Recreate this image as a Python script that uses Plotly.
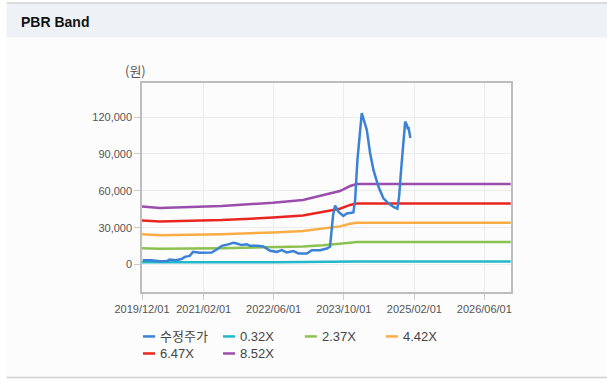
import plotly.graph_objects as go

# ---------------- data ----------------
price_dates = [
    "2019-12-06", "2020-02-06", "2020-04-02", "2020-05-21", "2020-06-10", "2020-07-22",
    "2020-08-31", "2020-09-23", "2020-10-27", "2020-11-19", "2021-01-05", "2021-03-28",
    "2021-05-02", "2021-06-06", "2021-07-10", "2021-08-25", "2021-09-18", "2021-10-23",
    "2021-11-26", "2021-12-19", "2022-02-04", "2022-03-22", "2022-05-07", "2022-06-23",
    "2022-07-27", "2022-08-31", "2022-10-16", "2022-11-20", "2023-01-17", "2023-02-21",
    "2023-04-19", "2023-06-04", "2023-06-27", "2023-07-09", "2023-07-18", "2023-08-01",
    "2023-08-24", "2023-09-27", "2023-10-21", "2023-12-06", "2023-12-18", "2024-01-03",
    "2024-01-21", "2024-02-02", "2024-02-13", "2024-03-08", "2024-03-31", "2024-04-23",
    "2024-05-28", "2024-07-01", "2024-08-05", "2024-09-09", "2024-10-06", "2024-10-18",
    "2024-11-01", "2024-11-17", "2024-11-29", "2024-12-11", "2024-12-18", "2024-12-22",
    "2024-12-29", "2025-01-04",
]
price_values = [
    3500, 3500, 2700, 2700, 4000, 3500,
    4400, 6200, 7000, 10300, 9500, 9800,
    12200, 15200, 16000, 17600, 17100, 15800,
    16500, 15200, 15200, 14700, 11100, 10300,
    11700, 9800, 10900, 9000, 9000, 11700,
    11700, 13000, 14400, 30700, 40000, 48000,
    43000, 39500, 41600, 42400, 52500, 85100,
    107000, 123300, 119000, 109600, 90600, 77000,
    63300, 53900, 49800, 46800, 45500, 55200,
    77000, 98800, 116400, 113700, 110000, 112000,
    104200, 103000,
]

band_dates = [
    "2019-12-01", "2020-04-02", "2021-06-05", "2022-02-03", "2022-05-27",
    "2022-12-21", "2023-05-09", "2023-09-04", "2023-11-13", "2023-12-29", "2026-12-01",
]
bps_values = [5550, 5400, 5590, 5775, 5900, 6160, 6640, 7020, 7500, 7690, 7690]

band_multiples = [0.32, 2.37, 4.42, 6.47, 8.52]
band_labels = ["0.32X", "2.37X", "4.42X", "6.47X", "8.52X"]
price_label = "수정주가"

x_tick_vals = ["2019-12-01", "2021-02-01", "2022-06-01", "2023-10-01", "2025-02-01", "2026-06-01"]
x_tick_text = ["2019/12/01", "2021/02/01", "2022/06/01", "2023/10/01", "2025/02/01", "2026/06/01"]
y_tick_vals = [0, 30000, 60000, 90000, 120000]
y_tick_text = ["0", "30,000", "60,000", "90,000", "120,000"]

# ---------------- styles ----------------
price_color = "#3b82d6"
band_colors = ["#22b8c8", "#8cc152", "#fbad45", "#e8261f", "#9b4dab"]
FONT = "Liberation Sans, Arial, Noto Sans CJK KR, sans-serif"

W, H = 607, 382
L, R, T, B = 142.3, 511.0, 83.3, 291.7


def px(x):
    return (x - L) / (R - L)


def py(y):
    return (B - y) / (B - T)


fig = go.Figure()

for mult, col, lab in zip(band_multiples, band_colors, band_labels):
    fig.add_trace(go.Scatter(
        x=band_dates, y=[mult * b for b in bps_values], mode="lines", name=lab,
        line=dict(color=col, width=2.5), showlegend=False, hoverinfo="skip"))

fig.add_trace(go.Scatter(
    x=price_dates, y=price_values, mode="lines", name=price_label,
    line=dict(color=price_color, width=2.5), showlegend=False))

shapes = []
annotations = []

# panel frame / header
shapes.append(dict(type="rect", xref="paper", yref="paper", x0=px(7), x1=px(607), y0=py(377), y1=py(3.5),
                   fillcolor="#fcfcfd", line=dict(width=0), layer="below"))
shapes.append(dict(type="rect", xref="paper", yref="paper", x0=px(7), x1=px(607), y0=py(38), y1=py(3.5),
                   fillcolor="#eef2f7", line=dict(width=0), layer="below"))
shapes.append(dict(type="line", xref="paper", yref="paper", x0=px(7), x1=px(607), y0=py(3.5), y1=py(3.5),
                   line=dict(color="#d0d0d0", width=1.5), layer="below"))
shapes.append(dict(type="line", xref="paper", yref="paper", x0=px(7), x1=px(607), y0=py(377), y1=py(377),
                   line=dict(color="#d0d0d0", width=1.5), layer="below"))
annotations.append(dict(xref="paper", yref="paper", x=px(19), y=py(22), xanchor="left", yanchor="middle",
                        text="<b>PBR Band</b>", showarrow=False,
                        font=dict(family="Liberation Sans, Arial, sans-serif", size=14, color="#111111")))
annotations.append(dict(xref="paper", yref="paper", x=px(136), y=py(71), xanchor="center", yanchor="middle",
                        text="(원)", showarrow=False,
                        font=dict(family="Noto Sans CJK KR", size=13, color="#555555")))

# manual legend
legend_items = [(price_label, price_color)] + list(zip(band_labels, band_colors))
legend_pos = [(143.3, 336), (223.3, 336), (305, 336), (386, 336), (143.3, 353), (223.3, 353)]
for (lab, col), (lx, ly) in zip(legend_items, legend_pos):
    shapes.append(dict(type="line", xref="paper", yref="paper", x0=px(lx), x1=px(lx + 12),
                       y0=py(ly), y1=py(ly), line=dict(color=col, width=2.5)))
    annotations.append(dict(xref="paper", yref="paper", x=px(lx + 15), y=py(ly), xanchor="left",
                            yanchor="middle", text=lab, showarrow=False,
                            font=dict(family="Liberation Sans, Noto Sans CJK KR, sans-serif", size=13,
                                      color="#444444")))

fig.update_layout(
    width=W, height=H,
    margin=dict(l=L, r=W - R, t=T, b=H - B, pad=0),
    paper_bgcolor="white", plot_bgcolor="white",
    showlegend=False,
    shapes=shapes, annotations=annotations,
    font=dict(family=FONT, size=11, color="#555555"),
)
fig.update_xaxes(
    type="date", range=["2019-12-01", "2026-12-03"],
    tickmode="array", tickvals=x_tick_vals, ticktext=x_tick_text,
    showgrid=True, gridcolor="#ececec", gridwidth=1,
    showline=True, linecolor="#bdbdbd", linewidth=1.5, mirror=True,
    ticks="outside", ticklen=6, tickcolor="#cccccc",
    tickfont=dict(size=11, color="#555555"), zeroline=False,
)
fig.update_yaxes(
    range=[-22400, 147800],
    tickmode="array", tickvals=y_tick_vals, ticktext=y_tick_text,
    showgrid=True, gridcolor="#ececec", gridwidth=1,
    showline=True, linecolor="#bdbdbd", linewidth=1.5, mirror=True,
    ticks="outside", ticklen=6, tickcolor="#cccccc",
    tickfont=dict(size=11, color="#555555"), zeroline=False,
)

fig.write_html("out.html", config={"displayModeBar": False},
               post_script="document.body.style.margin='0';document.body.style.overflow='hidden';")
